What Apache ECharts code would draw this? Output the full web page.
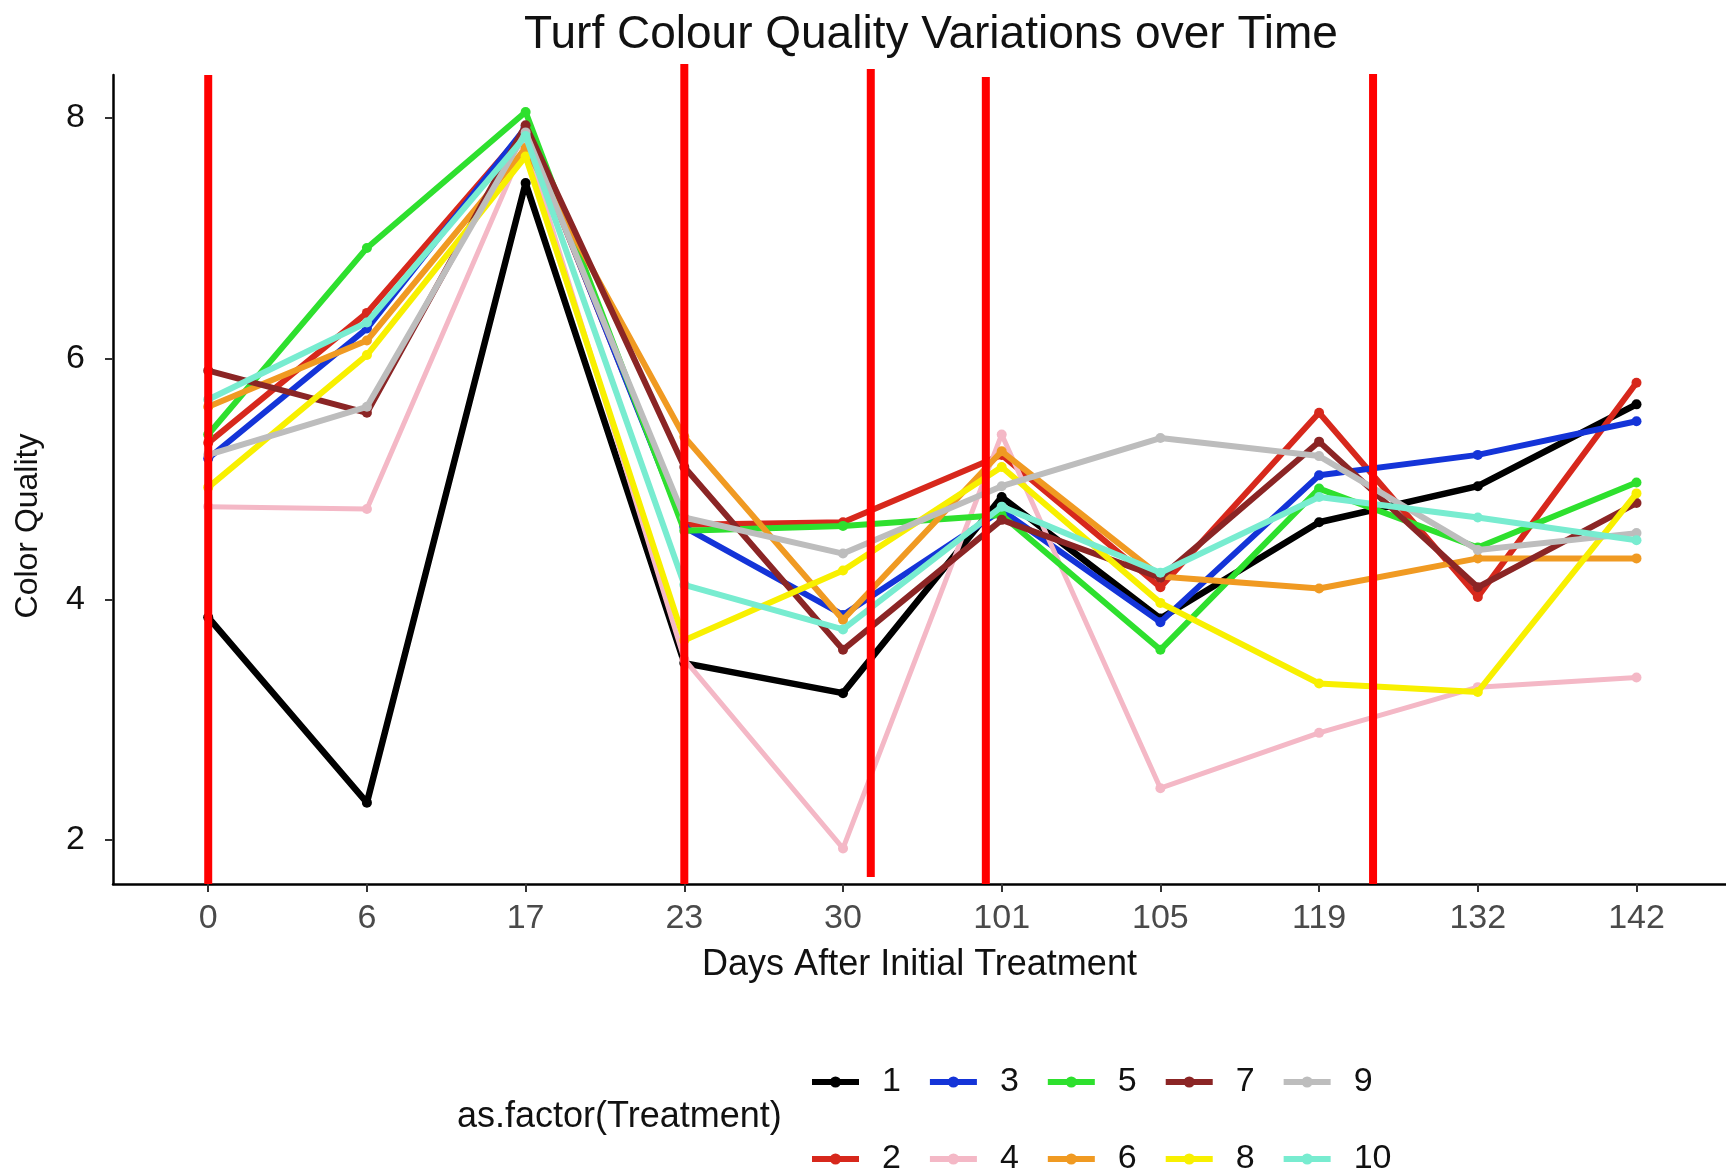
<!DOCTYPE html>
<html>
<head>
<meta charset="utf-8">
<title>Turf Colour Quality Variations over Time</title>
<script src="https://cdn.jsdelivr.net/npm/echarts@6/dist/echarts.min.js"></script>
<style>
  html, body { margin: 0; padding: 0; background: #ffffff; }
  #chart { width: 1726px; height: 1173px; }
</style>
</head>
<body>
<div id="chart"></div>
<script>
// Sampling days (discrete x positions)
const days = ['0', '6', '17', '23', '30', '101', '105', '119', '132', '142'];

// Mean colour quality per treatment, one value per sampling day
const t1  = [3.85, 2.31, 7.46, 3.47, 3.22, 4.85, 3.84, 4.64, 4.94, 5.62];
const t2  = [5.30, 6.38, 7.90, 4.62, 4.64, 5.20, 4.10, 5.55, 4.02, 5.80];
const t3  = [5.17, 6.25, 7.92, 4.60, 3.87, 4.74, 3.81, 5.03, 5.20, 5.48];
const t4  = [4.77, 4.75, 7.80, 3.50, 1.93, 5.37, 2.43, 2.89, 3.27, 3.35];
const t5  = [5.37, 6.92, 8.05, 4.57, 4.61, 4.70, 3.58, 4.92, 4.43, 4.97];
const t6  = [5.60, 6.15, 7.75, 5.35, 3.83, 5.23, 4.19, 4.09, 4.34, 4.34];
const t7  = [5.90, 5.55, 7.94, 5.10, 3.58, 4.66, 4.18, 5.31, 4.10, 4.80];
const t8  = [4.93, 6.03, 7.68, 3.66, 4.24, 5.10, 3.97, 3.30, 3.23, 4.88];
const t9  = [5.20, 5.60, 7.88, 4.68, 4.38, 4.94, 5.34, 5.19, 4.41, 4.55];
const t10 = [5.66, 6.30, 7.85, 4.12, 3.75, 4.77, 4.22, 4.85, 4.68, 4.49];

const treatmentNames = ['1', '2', '3', '4', '5', '6', '7', '8', '9', '10'];
const treatmentValues = [t1, t2, t3, t4, t5, t6, t7, t8, t9, t10];
const treatmentColors = ['#000000', '#d7281c', '#1434d8', '#f4b8c6', '#2ee02e',
                         '#f09a22', '#8b2525', '#f8f000', '#bdbdbd', '#78ecd0'];
const treatmentWidths = [6.5, 6, 6, 5, 6, 6, 6, 6, 6, 6];

// Y ticks
const yTicks = [2, 4, 6, 8];

// Vertical red markers, in axis units (x = day index, y = quality)
const markerX      = [0, 3.0, 4.175, 4.9, 7.34];
const markerTop    = [8.357, 8.449, 8.407, 8.34, 8.366];
const markerBottom = [1.634, 1.634, 1.692, 1.634, 1.634];

const FONT = '"Liberation Sans", Arial, Helvetica, sans-serif';

const chart = echarts.init(document.getElementById('chart'), null, { renderer: 'canvas' });

const lineSeries = treatmentNames.map((name, i) => ({
  name: name,
  type: 'line',
  data: treatmentValues[i].map((v, k) => [k, v]),
  symbol: 'circle',
  symbolSize: 10,
  showSymbol: true,
  lineStyle: { color: treatmentColors[i], width: treatmentWidths[i] },
  itemStyle: { color: treatmentColors[i] },
  emphasis: { disabled: true },
  z: 2 + i * 0.01
}));

const markerSeries = markerX.map((x, i) => ({
  type: 'line',
  data: [[x, markerBottom[i]], [x, markerTop[i]]],
  showSymbol: false,
  symbol: 'none',
  clip: false,
  silent: true,
  lineStyle: { color: '#ff0000', width: 8, cap: 'butt' },
  emphasis: { disabled: true },
  z: 5
}));

// Legend entries: fixed-width label cells so every column is evenly spaced
const legendCommon = {
  left: 804,
  orient: 'horizontal',
  itemWidth: 47,
  itemHeight: 14,
  itemGap: 26,
  selectedMode: false,
  lineStyle: { width: 6 },
  formatter: name => '{g|}{n|' + name + '}',
  textStyle: {
    fontFamily: FONT,
    fontSize: 34,
    color: '#111111',
    rich: {
      g: { width: 18, fontSize: 34 },
      n: { width: 40, fontSize: 34, fontFamily: FONT, color: '#111111' }
    }
  }
};

chart.setOption({
  animation: false,
  backgroundColor: '#ffffff',
  title: {
    text: 'Turf Colour Quality Variations over Time',
    left: 926,
    top: 7,
    textAlign: 'center',
    textStyle: { fontFamily: FONT, fontSize: 46, fontWeight: 'normal', color: '#111111' }
  },
  grid: {
    left: 113,
    right: 0,
    top: 75,
    bottom: 289,
    containLabel: false,
    outerBoundsMode: 'none'
  },
  xAxis: {
    type: 'value',
    min: -0.6,
    max: 9.564,
    name: 'Days After Initial Treatment',
    nameLocation: 'middle',
    nameGap: 63,
    nameTextStyle: { fontFamily: FONT, fontSize: 36, color: '#111111' },
    axisLine: { show: true, onZero: false, lineStyle: { color: '#000000', width: 2.5 } },
    axisTick: { show: true, length: 8, customValues: days.map((d, k) => k), lineStyle: { color: '#333333', width: 2 } },
    axisLabel: {
      customValues: days.map((d, k) => k),
      formatter: v => days[Math.round(v)],
      fontFamily: FONT,
      fontSize: 34,
      color: '#4a4a4a',
      margin: 18
    },
    splitLine: { show: false }
  },
  yAxis: {
    type: 'value',
    min: 1.634,
    max: 8.357,
    axisLine: { show: true, onZero: false, lineStyle: { color: '#000000', width: 2.5 } },
    axisTick: { show: true, length: 8, customValues: yTicks, lineStyle: { color: '#333333', width: 2 } },
    axisLabel: {
      customValues: yTicks,
      fontFamily: FONT,
      fontSize: 34,
      color: '#111111',
      margin: 28
    },
    splitLine: { show: false }
  },
  legend: [
    Object.assign({}, legendCommon, { top: 1060, data: ['1', '3', '5', '7', '9'] }),
    Object.assign({}, legendCommon, { top: 1137, data: ['2', '4', '6', '8', '10'] })
  ],
  graphic: [
    {
      type: 'text',
      x: 28,
      y: 526,
      rotation: Math.PI / 2,
      style: {
        text: 'Color Quality',
        fontFamily: FONT,
        fontSize: 32,
        fill: '#111111',
        align: 'center',
        verticalAlign: 'middle'
      }
    },
    {
      type: 'text',
      x: 457,
      y: 1117,
      style: {
        text: 'as.factor(Treatment)',
        fontFamily: FONT,
        fontSize: 36,
        fill: '#111111',
        align: 'left',
        verticalAlign: 'middle'
      }
    }
  ],
  series: lineSeries.concat(markerSeries)
});
</script>
</body>
</html>
